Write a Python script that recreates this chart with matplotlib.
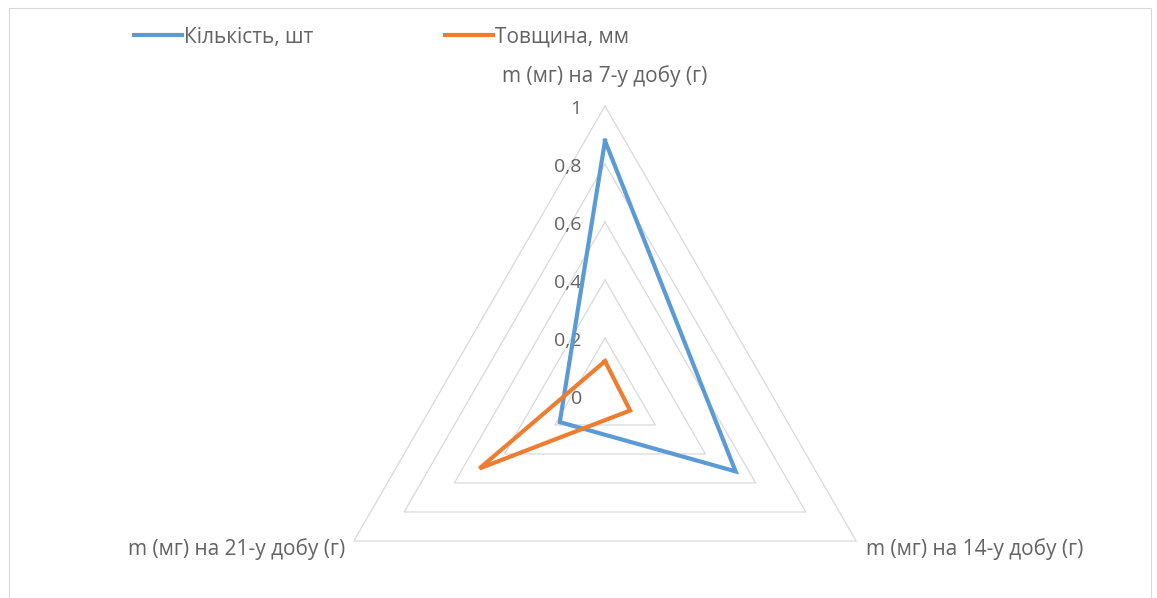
import numpy as np
import matplotlib
matplotlib.use("Agg")
import matplotlib.pyplot as plt
from matplotlib.patches import Rectangle

# data
categories = ["m (мг) на 7-у добу (г)", "m (мг) на 14-у добу (г)", "m (мг) на 21-у добу (г)"]
series_names = ["Кількість, шт", "Товщина, мм"]
kilkist = [0.88, 0.52, 0.18]
tovshchyna = [0.12, 0.10, 0.50]
ticks = [0, 0.2, 0.4, 0.6, 0.8, 1.0]
tick_labels = ["0", "0,2", "0,4", "0,6", "0,8", "1"]

BLUE = "#5B9BD5"
ORANGE = "#ED7D31"
TXT = "#636363"
GRID = "#D9D9D9"
FS = 14
FS_CAT = 15
plt.rcParams["font.family"] = ["Open Sans", "DejaVu Sans"]

angles = np.deg2rad([90, -30, 210])

def xy(vals):
    v = np.asarray(vals + vals[:1], dtype=float)
    a = np.concatenate([angles, angles[:1]])
    return v * np.cos(a), v * np.sin(a)

W, H = 1157, 598
fig = plt.figure(figsize=(W / 100, H / 100), dpi=100)
ax = fig.add_axes([0, 0, 1, 1])
R = 290.0
cx, cy = 605, 396
ax.set_xlim(-cx / R, (W - cx) / R)
ax.set_ylim(-(H - cy) / R, cy / R)
ax.axis("off")

# grid triangles
for t in ticks[1:]:
    gx, gy = xy([t] * 3)
    ax.plot(gx, gy, color=GRID, lw=0.9, zorder=1)

# tick labels along the top spoke
for t, lab in zip(ticks, tick_labels):
    ax.text(-0.08, t - 3 / R, lab, ha="right", va="center", fontsize=FS, color=TXT)

# series
for vals, col, name in [(kilkist, BLUE, series_names[0]), (tovshchyna, ORANGE, series_names[1])]:
    sx, sy = xy(vals)
    ax.plot(sx, sy, color=col, lw=3, solid_joinstyle="miter", zorder=3, label=name)

# category labels
ax.text(0, 1.0 + 19 / R, categories[0], ha="center", va="bottom", fontsize=FS_CAT, color=TXT)
ax.text(np.cos(angles[1]) + 10 / R, np.sin(angles[1]) - 8 / R, categories[1],
        ha="left", va="center", fontsize=FS_CAT, color=TXT)
ax.text(np.cos(angles[2]) - 9 / R, np.sin(angles[2]) - 8 / R, categories[2],
        ha="right", va="center", fontsize=FS_CAT, color=TXT)

leg = fig.legend(loc="upper left", bbox_to_anchor=(0.1, 0.987), ncol=2, frameon=False,
                 fontsize=15, handlelength=2.3, handletextpad=0.1, columnspacing=6.3,
                 labelcolor=TXT)

fig.patches.append(Rectangle((9 / W, -0.01), (1151 - 9) / W, 1.01 - 8 / H,
                             transform=fig.transFigure, fill=False,
                             edgecolor="#D9D9D9", lw=0.8))

fig.savefig("out.png", dpi=100)
